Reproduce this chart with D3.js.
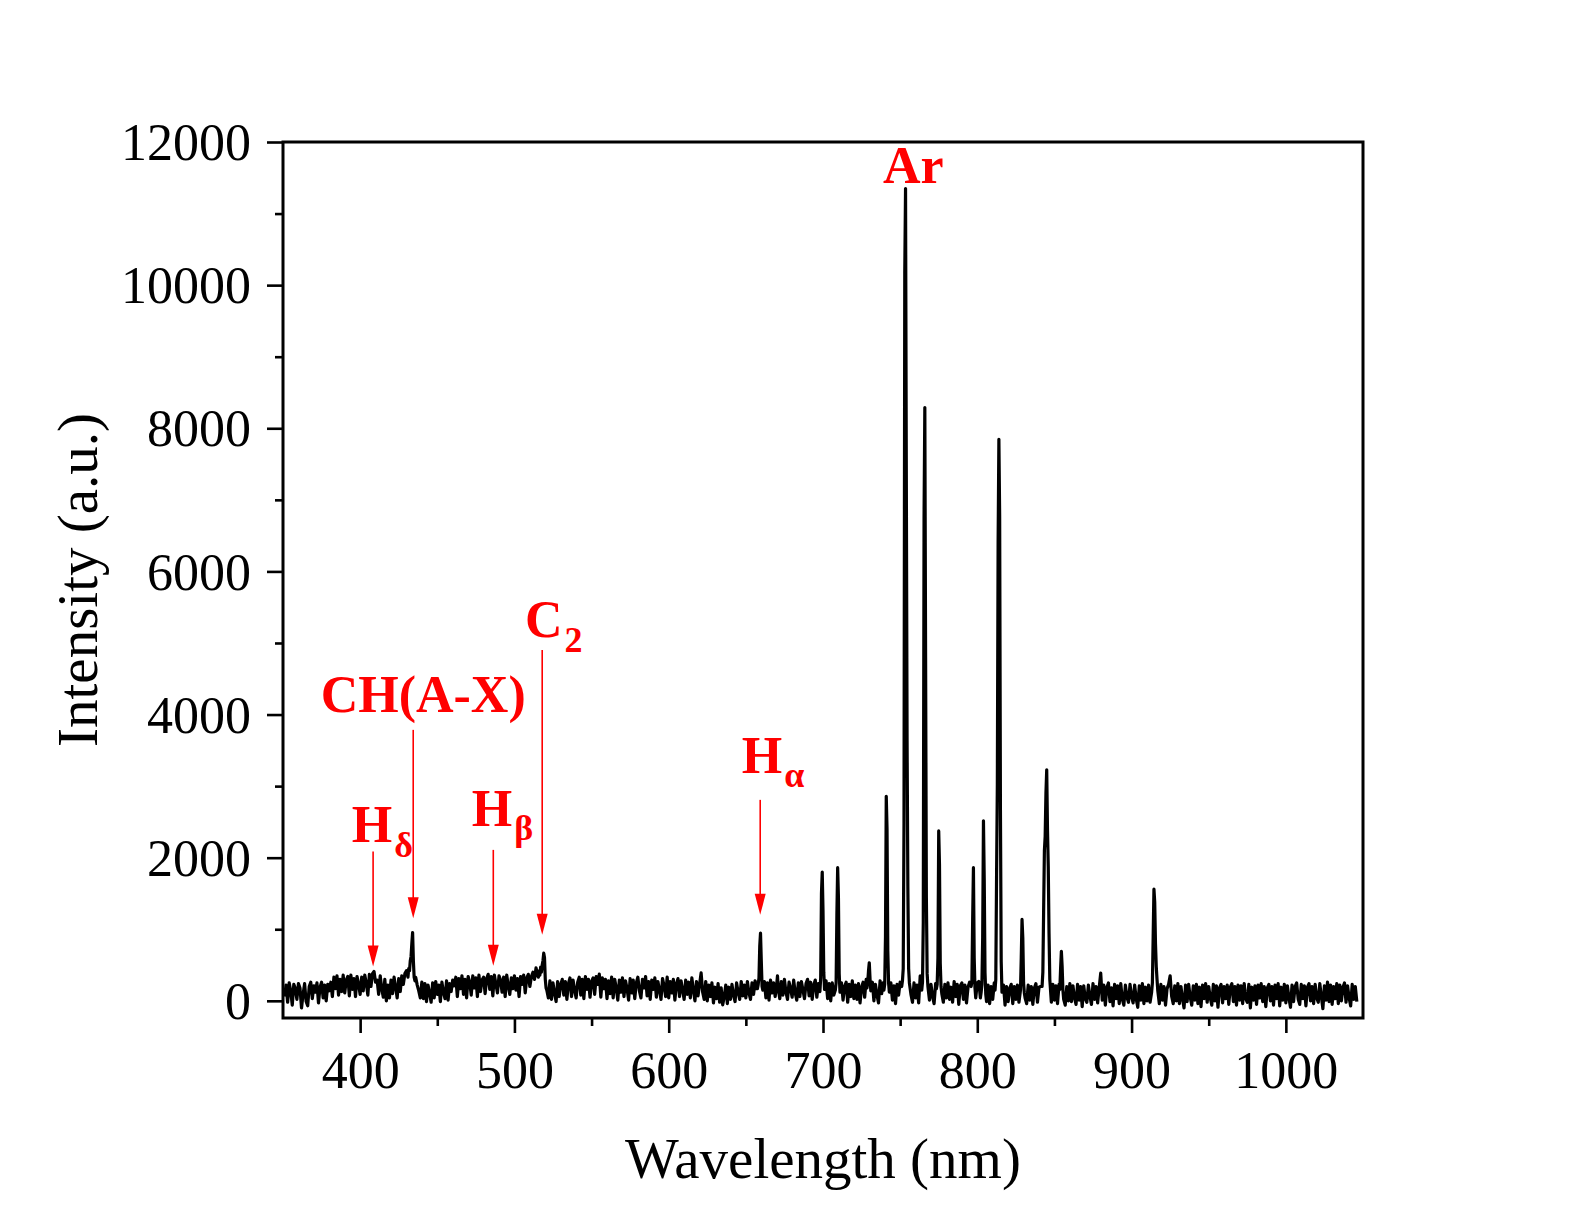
<!DOCTYPE html>
<html><head><meta charset="utf-8">
<script src="https://cdn.jsdelivr.net/npm/d3@7/dist/d3.min.js"></script>
<style>body{margin:0;background:#fff}svg{display:block}</style>
</head><body>
<svg id="chart" width="1586" height="1220"></svg>
<script>
// ---------------- DATA ----------------
// Baseline spectrum, 1 nm steps starting at 351 nm (intensity, a.u.)
const baseStart = 351;
const baseline = [
 60,220,-20,250,140,-60,230,170,20,240,
 180,-100,90,240,-10,-70,200,260,30,210,
 120,250,-30,190,260,40,220,0,230,140,
 260,60,330,170,350,80,300,130,360,110,
 290,340,70,360,160,310,60,340,230,90,
 330,140,360,240,80,370,200,380,410,260,
 290,90,350,170,50,300,0,220,40,290,
 100,330,190,40,310,130,350,230,380,420,
 420,500,700,954,600,350,300,140,40,260,
 30,240,-10,220,110,-20,250,40,270,90,
 220,-10,260,120,30,280,10,240,130,290,
 210,330,60,310,170,350,90,300,40,340,
 260,80,350,180,320,60,360,130,290,330,
 100,310,370,160,340,70,360,230,110,350,
 290,120,330,60,360,210,90,320,170,350,
 150,310,60,340,230,360,110,320,370,200,
 340,400,300,460,360,480,450,520,666,380,
 150,40,280,20,250,110,-10,270,60,230,
 300,80,270,20,240,320,60,290,150,40,
 260,330,80,300,30,340,160,300,50,270,
 320,90,340,230,372,50,320,170,300,30,
 280,100,330,40,300,180,10,290,120,320,
 60,280,170,10,310,110,290,30,250,330,
 140,40,300,180,340,70,270,20,290,160,
 320,50,270,150,20,310,210,60,330,40,
 270,110,300,10,240,310,60,280,150,20,
 290,90,260,40,320,150,0,270,70,230,
 390,120,20,270,0,220,60,250,-30,190,
 30,240,-20,180,-56,60,220,-40,190,20,
 230,80,-10,250,120,20,270,70,220,40,
 270,110,20,250,90,280,170,280,945,300,
 100,270,40,250,10,290,110,250,60,350,
 220,30,270,80,300,120,20,260,170,50,
 290,110,10,250,60,270,150,30,240,300,
 70,260,20,220,290,50,240,110,1800,600,
 90,280,30,240,0,250,80,150,1860,400,
 40,250,10,200,260,-20,230,60,280,30,
 220,20,240,-30,190,260,50,300,532,200,
 70,260,0,230,80,-30,280,100,250,180,
 2857,300,40,250,10,210,-40,230,80,260,
 200,500,10000,11350,3600,300,90,-20,250,40,
 220,-30,350,150,1100,8290,1440,200,10,230,
 60,-40,240,200,2374,300,100,-20,230,40,
 250,20,190,-20,270,60,230,-50,210,250,
 20,220,-30,190,260,200,1860,300,40,250,
 270,40,-80,2515,300,-10,220,-40,200,20,
 250,1740,7845,2690,300,20,220,-60,200,-10,
 170,230,-40,200,20,220,-20,150,1137,200,
 40,-40,220,10,200,-50,180,240,-20,190,
 200,2140,2900,3229,1875,300,40,-20,230,10,
 210,-40,230,691,200,20,-60,200,0,240,
 -10,210,40,-50,230,10,200,-80,210,30,
 -20,220,60,-50,240,20,200,-30,180,386,
 10,220,-60,190,250,-10,180,-70,230,30,
 210,-40,240,20,-60,220,50,-20,230,60,
 -30,220,30,-90,210,10,240,-40,190,0,
 220,-20,250,1560,700,300,60,-40,230,10,
 200,-60,170,230,350,60,-40,210,0,240,
 -40,200,30,-100,220,-10,230,50,-60,210,
 10,230,-40,190,-80,220,30,240,-20,200,
 40,-60,230,0,210,-90,180,230,-30,200,
 30,220,-50,190,240,-10,200,-60,220,10,
 210,-40,240,30,-20,230,-100,190,10,210,
 -50,220,40,240,-10,200,-80,180,230,0,
 200,-60,220,30,240,-70,190,10,230,-30,
 210,40,-90,220,-10,200,250,20,-50,230,
 30,210,-70,190,240,0,200,-40,230,40,
 -20,240,60,-110,210,10,260,-10,220,-50,
 200,30,240,-40,220,0,190,250,-20,210,
 40,-70,230,20,200,-10
];

// Emission lines sampled at 0.5 nm: [wavelength nm, intensity]
const peakCH  = [[430.5,380],[431,330],[431.5,450],[432,420],[432.5,560],[433,620],[433.5,800],[434,954],[434.5,560],[435,330],[435.5,280],[436,330],[437,220]];
const peakC2  = [[515.5,330],[516,420],[516.5,360],[517,470],[517.5,400],[518,500],[518.5,560],[519,666],[519.5,600],[520,300],[520.5,180],[521,150]];
const peakHa  = [[657.5,170],[658,230],[658.5,320],[659,760],[659.5,945],[660,560],[660.5,200],[661,150]];
const peak670 = [[669.5,140],[670,230],[670.5,350],[671,170]];
const peakAr  = [
 [[697.5,150],[698,130],[698.5,320],[699,1500],[699.5,1800],[700,1260],[700.5,400],[701,160]],
 [[708,150],[708.5,250],[709,1200],[709.5,1860],[710,1450],[710.5,380],[711,120]],
 [[728.5,180],[729,260],[729.5,420],[730,532],[730.5,300],[731,140]],
 [[739.5,150],[740,230],[740.5,900],[741,2857],[741.5,2400],[742,700],[742.5,250],[743,120]],
 [[751,200],[751.5,280],[752,450],[752.5,2485],[753,10170],[753.5,11350],[754,7350],[754.5,3630],[755,1600],[755.5,450],[756,250]],
 [[764,150],[764.5,260],[765,1100],[765.5,6760],[766,8290],[766.5,4800],[767,1440],[767.5,380],[768,200]],
 [[773.5,170],[774,230],[774.5,600],[775,2374],[775.5,1900],[776,520],[776.5,200]],
 [[796,200],[796.5,260],[797,1130],[797.5,1860],[798,600],[798.5,180]],
 [[802.5,120],[803,230],[803.5,890],[804,2515],[804.5,1700],[805,400],[805.5,90]],
 [[811.5,150],[812,300],[812.5,1740],[813,3030],[813.5,6400],[814,7845],[814.5,6770],[815,2690],[815.5,550],[816,120]],
 [[828,150],[828.5,600],[829,1137],[829.5,880],[830,250],[830.5,110]],
 [[842,200],[842.5,400],[843,1250],[843.5,2100],[844,2300],[844.5,2900],[845,3229],[845.5,2400],[846,1875],[846.5,945],[847,300]],
 [[853.5,160],[854,450],[854.5,691],[855,480],[855.5,150]],
 [[913,120],[913.5,250],[914,900],[914.5,1560],[915,1380],[915.5,800],[916,480],[916.5,300],[917,140]]
];

const xTickValues = [400,500,600,700,800,900,1000];
const xMinorValues = [450,550,650,750,850,950];
const yTickValues = [0,2000,4000,6000,8000,10000,12000];
const yMinorValues = [1000,3000,5000,7000,9000,11000];

// Annotations: label parts, arrow wavelength, arrow start/tip intensity
const annoLabels = [
 {main:"Ar", sub:""},
 {main:"CH(A-X)", sub:""},
 {main:"H", sub:"δ"},
 {main:"H", sub:"β"},
 {main:"C", sub:"2"},
 {main:"H", sub:"α"}
];
const arrowWl   = [408.4, 434.4, 486.3, 518.0, 659.3];
const arrowFrom = [2086, 3786, 2109, 4903, 2808];
const arrowTo   = [479, 1155, 489, 922, 1201];

// ---------------- LAYOUT ----------------
const L = 283, R = 1363, T = 142, B = 1018;
const svg = d3.select("#chart");
const x = d3.scaleLinear().domain([350,1050]).range([L,R]);
const y = d3.scaleLinear().domain([-240,12000]).range([B,T]);

// merge spectrum
const groups = [peakCH, peakC2, peakHa, peak670, ...peakAr];
let pts = baseline.map((v,i)=>[baseStart+i, v])
  .filter(p => !groups.some(g => p[0] >= g[0][0] && p[0] <= g[g.length-1][0]));
groups.forEach(g => g.forEach(p => pts.push(p)));
pts.sort((a,b)=>a[0]-b[0]);

const line = d3.line().x(d=>x(d[0])).y(d=>y(d[1]));
svg.append("path").datum(pts)
  .attr("d", line).attr("fill","none").attr("stroke","#000")
  .attr("stroke-width",3.2).attr("stroke-linejoin","round");

const serif = "'Liberation Serif','Times New Roman',serif";

// axes
const yAxis = d3.axisLeft(y).tickValues(yTickValues).tickSize(16).tickPadding(16).tickSizeOuter(0).tickFormat(d3.format("d"));
const gy = svg.append("g").attr("transform",`translate(${L},0)`).call(yAxis);
gy.select(".domain").remove();
gy.selectAll(".tick line").attr("stroke","#000").attr("stroke-width",2.6);
gy.selectAll(".tick text").attr("font-family",serif).attr("font-size",52).attr("fill","#000").attr("dy","0.34em");
const gym = svg.append("g").attr("transform",`translate(${L},0)`)
  .call(d3.axisLeft(y).tickValues(yMinorValues).tickSize(8).tickFormat(""));
gym.select(".domain").remove();
gym.selectAll(".tick line").attr("stroke","#000").attr("stroke-width",2.6);

const xAxis = d3.axisBottom(x).tickValues(xTickValues).tickSize(15).tickPadding(18).tickFormat(d3.format("d"));
const gx = svg.append("g").attr("transform",`translate(0,${B})`).call(xAxis);
gx.select(".domain").remove();
gx.selectAll(".tick line").attr("stroke","#000").attr("stroke-width",2.6);
gx.selectAll(".tick text").attr("font-family",serif).attr("font-size",52).attr("fill","#000").attr("dy","0.71em");
const gxm = svg.append("g").attr("transform",`translate(0,${B})`)
  .call(d3.axisBottom(x).tickValues(xMinorValues).tickSize(8).tickFormat(""));
gxm.select(".domain").remove();
gxm.selectAll(".tick line").attr("stroke","#000").attr("stroke-width",2.6);

// frame
svg.append("rect").attr("x",L).attr("y",T).attr("width",R-L).attr("height",B-T)
  .attr("fill","none").attr("stroke","#000").attr("stroke-width",3);

// titles
svg.append("text").attr("x",(L+R)/2).attr("y",1178).attr("text-anchor","middle")
  .attr("font-family",serif).attr("font-size",57).text("Wavelength (nm)");
svg.append("text").attr("transform",`translate(97,${(T+B)/2}) rotate(-90)`).attr("text-anchor","middle")
  .attr("font-family",serif).attr("font-size",57).text("Intensity (a.u.)");

// annotations
const red = "#ff0000";
const labelPos = [[883,182.7],[320.7,711.7],[351.7,841.7],[471.7,826],[525,637.3],[741.7,772.7]];
const subShift = [0,0,15,14,15,14.5];
annoLabels.forEach((a,i)=>{
  const t = svg.append("text").attr("x",labelPos[i][0]).attr("y",labelPos[i][1])
    .attr("font-family",serif).attr("font-weight","bold").attr("font-size",52).attr("fill",red);
  t.append("tspan").text(a.main);
  if (a.sub) t.append("tspan").attr("dy",subShift[i]).attr("font-size",36).attr("dx",2).text(a.sub);
});
arrowWl.forEach((w,i)=>{
  const ax = x(w), y0 = y(arrowFrom[i]), y1 = y(arrowTo[i]);
  svg.append("line").attr("x1",ax).attr("x2",ax).attr("y1",y0).attr("y2",y1-18)
    .attr("stroke",red).attr("stroke-width",1.6);
  svg.append("path").attr("d",`M${ax-5.5},${y1-21} L${ax+5.5},${y1-21} L${ax},${y1} Z`).attr("fill",red);
});
</script>
</body></html>
